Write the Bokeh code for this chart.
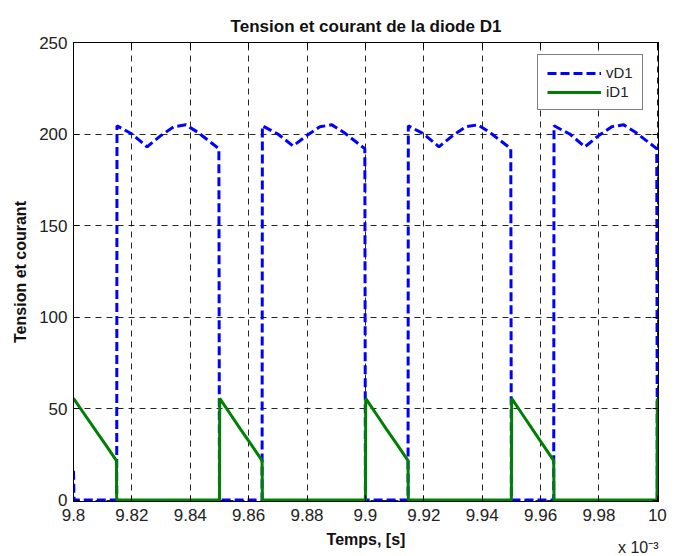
from bokeh.plotting import figure
from bokeh.models import (Range1d, LinearAxis, FixedTicker, CustomJSTickFormatter,
                          Legend, LegendItem, Title)
from bokeh.embed import file_html
from bokeh.resources import INLINE

# ---- data (time in units of 1e-3 s) ----
t_vd1 = [9.8000, 9.8002, 9.8148, 9.8149, 9.8200, 9.8252, 9.8298, 9.8344, 9.8385, 9.8425, 9.8498,
         9.8500, 9.8646, 9.8647, 9.8700, 9.8752, 9.8798, 9.8844, 9.8885, 9.8925, 9.8998,
         9.9000, 9.9146, 9.9147, 9.9200, 9.9252, 9.9298, 9.9344, 9.9385, 9.9425, 9.9498,
         9.9500, 9.9645, 9.9646, 9.9700, 9.9752, 9.9798, 9.9844, 9.9885, 9.9925, 9.9998,
         10.0000]
vd1 = [16, 0, 0, 204.5, 200, 193, 199, 204, 205, 201, 192,
       0, 0, 204.5, 200, 193.5, 199, 204, 205, 201, 192,
       0, 0, 204.5, 200, 193, 199, 204, 205, 201, 192,
       0, 0, 204.5, 200, 193, 199, 204, 205, 201, 192,
       0]

t_id1 = [9.8000, 9.8037, 9.8074, 9.8111, 9.8147, 9.8148,
         9.8500, 9.8501, 9.8537, 9.8573, 9.8610, 9.8646, 9.8647,
         9.9000, 9.9001, 9.9037, 9.9073, 9.9110, 9.9146, 9.9147,
         9.9500, 9.9501, 9.9537, 9.9573, 9.9609, 9.9645, 9.9646,
         9.9999, 10.0000]
id1 = [55.5, 47, 38.5, 30, 21.5, 0,
       0, 55.5, 47, 38.5, 30, 21.5, 0,
       0, 55.5, 47, 38.5, 30, 21.5, 0,
       0, 55.5, 47, 38.5, 30, 21.5, 0,
       0, 55.5]

x_ticks = [9.8, 9.82, 9.84, 9.86, 9.88, 9.9, 9.92, 9.94, 9.96, 9.98, 10.0]
x_tick_labels = ["9.8", "9.82", "9.84", "9.86", "9.88", "9.9", "9.92", "9.94", "9.96", "9.98", "10"]
y_ticks = [0, 50, 100, 150, 200, 250]

title_text = "Tension et courant de la diode D1"
x_label = "Temps, [s]"
y_label = "Tension et courant"
x_multiplier = "x 10\u207b\u00b3"
series_names = ["vD1", "iD1"]

FONT = "Liberation Sans"

p = figure(width=681, height=556, output_backend="svg", toolbar_location=None,
           x_range=Range1d(9.8, 10.0004), y_range=Range1d(-0.8, 250),
           min_border_left=73, min_border_right=23, min_border_top=42, min_border_bottom=55,
           title=title_text)
p.background_fill_color = "white"
p.border_fill_color = "white"
p.outline_line_color = "black"

p.title.align = "center"
p.title.text_font = FONT
p.title.text_font_size = "17px"
p.title.text_font_style = "bold"
p.title.text_color = "#111111"
p.title.standoff = 14

fmt = CustomJSTickFormatter(args=dict(vals=x_ticks, labs=x_tick_labels), code="""
for (let i = 0; i < vals.length; i++) { if (Math.abs(vals[i] - tick) < 1e-9) return labs[i]; }
return '';
""")

xa = p.xaxis[0]
xa.ticker = FixedTicker(ticks=x_ticks)
xa.formatter = fmt
ya = p.yaxis[0]
ya.ticker = FixedTicker(ticks=y_ticks)

for ax in (xa, ya):
    ax.major_tick_in = 6
    ax.major_tick_out = 0
    ax.minor_tick_line_color = None
    ax.axis_line_color = "black"
    ax.major_tick_line_color = "black"
    ax.major_label_text_font = FONT
    ax.major_label_text_font_size = "17px"
    ax.major_label_text_color = "#222222"
    ax.axis_label_text_font = FONT
    ax.axis_label_text_font_size = "16px"
    ax.axis_label_text_font_style = "bold"
    ax.axis_label_text_color = "#111111"

ya.axis_label = y_label
xa.major_label_standoff = 7
ya.major_label_standoff = 6
ya.axis_label_standoff = 7

top = LinearAxis(ticker=FixedTicker(ticks=x_ticks), major_label_text_font_size="1px",
                 major_label_text_color=None,
                 major_tick_in=6, major_tick_out=0, minor_tick_line_color=None,
                 major_label_standoff=0, axis_line_color="black")
right = LinearAxis(ticker=FixedTicker(ticks=y_ticks), major_label_text_font_size="1px",
                   major_label_text_color=None,
                   major_tick_in=6, major_tick_out=0, minor_tick_line_color=None,
                   major_label_standoff=0, axis_line_color="black")
p.add_layout(top, "above")
p.add_layout(right, "right")

p.xgrid.ticker = FixedTicker(ticks=x_ticks)
p.ygrid.ticker = FixedTicker(ticks=y_ticks)
for g in (p.xgrid[0], p.ygrid[0]):
    g.grid_line_color = "black"
    g.grid_line_alpha = 0.85
    g.grid_line_dash = "6 5"
    g.grid_line_width = 1

rv = p.line(t_vd1, vd1, line_color="#0000ff", line_width=3, line_dash="9 4")
ri = p.line(t_id1, id1, line_color="#008000", line_width=3)

legend = Legend(items=[LegendItem(label=series_names[0], renderers=[rv]),
                       LegendItem(label=series_names[1], renderers=[ri])],
                location=(464, 391), padding=9, spacing=2, margin=0,
                glyph_width=54, glyph_height=14, label_height=14, label_standoff=5,
                label_text_font=FONT, label_text_font_size="15px", label_text_color="#222222",
                border_line_color="black", border_line_width=1, background_fill_color="white",
                background_fill_alpha=1)
p.add_layout(legend)

xlab = Title(text=x_label, align="center", vertical_align="top", standoff=14,
             text_font=FONT, text_font_size="16px", text_font_style="bold",
             text_color="#111111")
mult = Title(text=x_multiplier, align="right", vertical_align="top", offset=0, standoff=-36,
             text_font=FONT, text_font_size="16px", text_font_style="normal",
             text_color="#222222")
p.add_layout(xlab, "below")
p.add_layout(mult, "below")

open("out.html", "w").write(file_html(p, INLINE))
